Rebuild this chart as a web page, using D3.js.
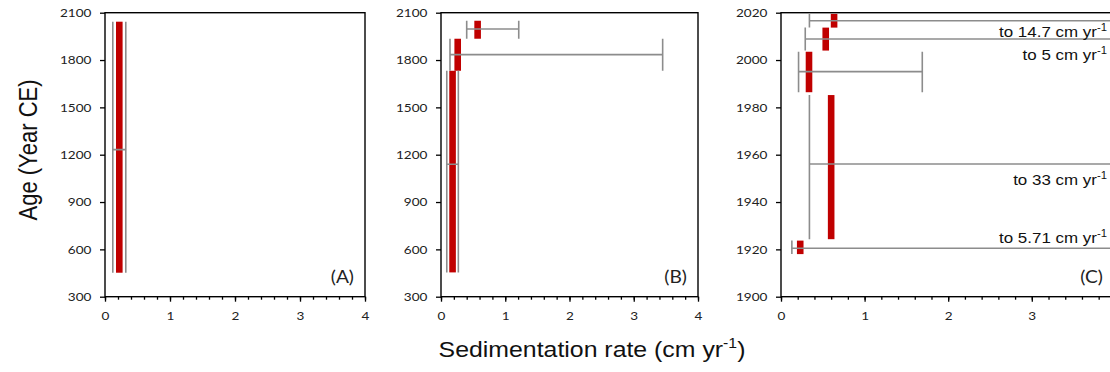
<!DOCTYPE html>
<html>
<head>
<meta charset="UTF-8">
<title>Sedimentation rate</title>
<script src="https://d3js.org/d3.v7.min.js"></script>
<style>
  body { margin: 0; background: #fff; }
</style>
</head>
<body>
<svg class="chart"></svg>
<script>
const width = 1110;
const height = 372;
const sx = 1.13; // the original figure is stretched a little sideways

const panelNames = ["(A)", "(B)", "(C)"];
const xTicks = [0, 1, 2, 3, 4];
const yTicksLong = [300, 600, 900, 1200, 1500, 1800, 2100];
const yTicksShort = [1900, 1920, 1940, 1960, 1980, 2000, 2020];

// panel A
const topA = [2043];
const bottomA = [452];
const midA = [1232];
const rateA = [0.22];
const lowA = [0.12];
const highA = [0.32];

// panel B
const topB = [2049, 1935, 1732];
const bottomB = [1935, 1732, 454];
const midB = [1997, 1834, 1139];
const rateB = [0.57, 0.26, 0.18];
const lowB = [0.40, 0.14, 0.09];
const highB = [1.21, 3.45, 0.27];

// panel C
const topC = [2019.5, 2013.7, 2003.5, 1985.2, 1923.7];
const bottomC = [2013.7, 2004, 1986.4, 1924.3, 1918];
const midC = [2016.6, 2008.9, 1995.1, 1956.1, 1920.5];
const rateC = [0.635, 0.535, 0.335, 0.60, 0.23];
const lowC = [0.34, 0.29, 0.21, 0.34, 0.13];
const highC = [14.7, 5, 1.69, 33, 5.71];

function makeSegs(top, bottom, mid, rate, low, high) {
    return d3.range(top.length).map(i => ({
        top: top[i], bottom: bottom[i], mid: mid[i],
        rate: rate[i], low: low[i], high: high[i]
    }));
}

const plotTop = 12.7;
const plotBottom = 296.7;
const xMax = 4;

const panels = [
    {left: 105, right: 365, yDomain: [300, 2100], yTicks: yTicksLong,
     segs: makeSegs(topA, bottomA, midA, rateA, lowA, highA)},
    {left: 441, right: 698, yDomain: [300, 2100], yTicks: yTicksLong,
     segs: makeSegs(topB, bottomB, midB, rateB, lowB, highB)},
    {left: 781, right: 1115.4, yDomain: [1900, 2020], yTicks: yTicksShort,
     segs: makeSegs(topC, bottomC, midC, rateC, lowC, highC)}
];

// where the "to ... cm yr-1" notes sit, relative to each error bar line
const noteDy = [16, 21, 0, 21, -5];

const gray = "#8c8c8c";
const red = "#c00000";
const tickFont = "Lato, 'Open Sans', sans-serif";
const labelFont = "'Liberation Sans', Arial, sans-serif";

const svg = d3.select(".chart")
    .attr("width", width)
    .attr("height", height);

panels.forEach((p, k) => {
    const x = d3.scaleLinear().domain([0, xMax]).range([p.left, p.right]);
    const y = d3.scaleLinear().domain(p.yDomain).range([plotBottom, plotTop]);
    const g = svg.append("g");

    svg.append("clipPath").attr("id", "clip" + k)
        .append("rect")
        .attr("x", p.left).attr("y", plotTop)
        .attr("width", p.right - p.left).attr("height", plotBottom - plotTop);

    const plot = g.append("g").attr("clip-path", `url(#clip${k})`);

    // red bars for each age interval
    plot.selectAll(".bar")
        .data(p.segs).enter().append("rect")
        .attr("class", "bar")
        .attr("x", d => x(d.rate) - 3.3)
        .attr("width", 6.6)
        .attr("y", d => y(d.top))
        .attr("height", d => y(d.bottom) - y(d.top))
        .style("fill", red);

    // error bars: horizontal line plus tall caps
    plot.selectAll(".err")
        .data(p.segs).enter().append("line")
        .attr("class", "err")
        .attr("x1", d => x(d.low))
        .attr("x2", d => x(d.high))
        .attr("y1", d => y(d.mid))
        .attr("y2", d => y(d.mid))
        .style("stroke", gray)
        .style("stroke-width", 1.6);

    ["low", "high"].forEach(key => {
        plot.selectAll(".cap-" + key)
            .data(p.segs).enter().append("line")
            .attr("class", "cap-" + key)
            .attr("x1", d => x(d[key]))
            .attr("x2", d => x(d[key]))
            .attr("y1", d => y(d.top))
            .attr("y2", d => y(d.bottom))
            .style("stroke", gray)
            .style("stroke-width", 1.6);
    });

    // y axis
    const yAxis = g.append("g")
        .attr("transform", `translate(${p.left},0)`)
        .call(d3.axisLeft(y).tickValues(p.yTicks).tickFormat(d3.format("d"))
            .tickSize(5).tickPadding(7));
    yAxis.select(".domain").remove();
    yAxis.selectAll("line").style("stroke", "#000").style("stroke-width", 1.3);
    yAxis.selectAll("text")
        .attr("transform", `scale(${sx},1)`)
        .style("font-family", tickFont)
        .style("font-size", "12px")
        .style("fill", "#222");

    // x axis, minor ticks then major ticks (only the ones inside the window)
    const xMinor = g.append("g")
        .attr("transform", `translate(0,${plotBottom})`)
        .call(d3.axisBottom(x).tickValues(d3.range(0, xMax + 0.001, 0.2)).tickSize(3).tickFormat(""));
    xMinor.select(".domain").remove();
    xMinor.selectAll("line").style("stroke", "#000").style("stroke-width", 1.3);

    const shownTicks = xTicks.filter(t => x(t) < width - 6);
    const xAxis = g.append("g")
        .attr("transform", `translate(0,${plotBottom})`)
        .call(d3.axisBottom(x).tickValues(shownTicks).tickFormat(d3.format("d")).tickSize(5));
    xAxis.select(".domain").remove();
    xAxis.selectAll("line").style("stroke", "#000").style("stroke-width", 1.3);
    xAxis.selectAll("text")
        .attr("y", 15)
        .attr("transform", `scale(${sx},1)`)
        .style("font-family", tickFont)
        .style("font-size", "12px")
        .style("fill", "#222");

    // frame
    g.append("rect")
        .attr("x", p.left).attr("y", plotTop)
        .attr("width", p.right - p.left).attr("height", plotBottom - plotTop)
        .style("fill", "none")
        .style("stroke", "#000")
        .style("stroke-width", 1.4);

    // panel letter
    const rightEdge = Math.min(p.right, width) - (k === 2 ? 7 : 11);
    g.append("text")
        .attr("transform", `translate(${rightEdge},${plotBottom - 13.5}) scale(${sx},1)`)
        .attr("text-anchor", "end")
        .style("font-family", tickFont)
        .style("font-size", "17px")
        .style("fill", "#222")
        .text(panelNames[k]);

    // notes for error bars running off the chart
    p.segs.forEach((d, i) => {
        if (d.high <= xMax) return;
        const t = g.append("text")
            .attr("transform", `translate(1107,${y(d.mid) + noteDy[i]}) scale(${sx},1)`)
            .attr("text-anchor", "end")
            .style("font-family", labelFont)
            .style("font-size", "15px")
            .style("fill", "#111");
        t.append("tspan").text(`to ${d.high} cm yr`);
        t.append("tspan").attr("dy", -6).style("font-size", "10px").text("-1");
    });
});

// y axis title
svg.append("text")
    .attr("transform", `translate(36.5,150) scale(${sx},1) rotate(-90)`)
    .attr("text-anchor", "middle")
    .style("font-family", labelFont)
    .style("font-size", "22px")
    .style("fill", "#111")
    .text("Age (Year CE)");

// x axis title
const xTitle = svg.append("text")
    .attr("transform", `translate(592,357) scale(${sx},1)`)
    .attr("text-anchor", "middle")
    .style("font-family", labelFont)
    .style("font-size", "22px")
    .style("fill", "#111");
xTitle.append("tspan").text("Sedimentation rate (cm yr");
xTitle.append("tspan").attr("dy", -9).style("font-size", "14px").text("-1");
xTitle.append("tspan").attr("dy", 9).text(")");
</script>
</body>
</html>
